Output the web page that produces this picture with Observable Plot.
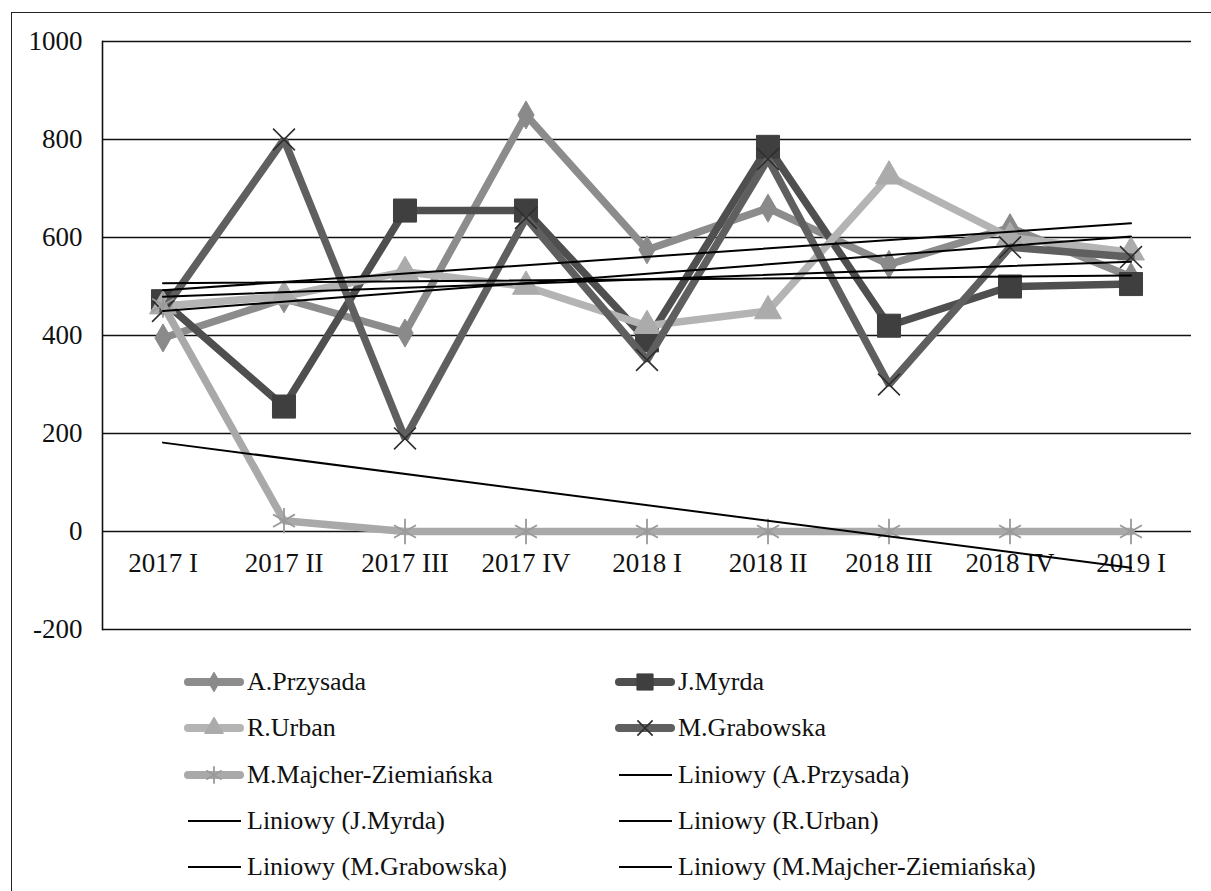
<!DOCTYPE html>
<html><head><meta charset="utf-8">
<script src="https://cdn.jsdelivr.net/npm/d3@7"></script>
<script src="https://cdn.jsdelivr.net/npm/@observablehq/plot@0.6"></script>
<style>
html,body{margin:0;padding:0;background:#fff;}
body{overflow:hidden;width:1211px;height:891px;position:relative;font-family:"Liberation Serif","Times New Roman",serif;color:#111;}
#frame{position:absolute;left:11px;top:12px;width:1300px;height:1000px;border:1.5px solid #222;box-sizing:border-box;}
#chart{position:absolute;left:0;top:0;}
.item{position:absolute;height:40px;display:flex;align-items:center;font-size:26px;white-space:nowrap;}
.item svg{display:block;margin-right:2px;}
</style></head><body>
<div id="frame"></div>
<div id="chart"></div>
<div id="legend"></div>
<script>
// ---- data ----
const categories = ["2017 I","2017 II","2017 III","2017 IV","2018 I","2018 II","2018 III","2018 IV","2019 I"];
const przysada  = [395, 475, 405, 850, 575, 660, 545, 620, 520];
const myrda     = [470, 255, 655, 655, 390, 785, 420, 500, 505];
const urban     = [460, 480, 530, 500, 420, 450, 725, 600, 570];
const grabowska = [450, 800, 190, 640, 350, 760, 300, 580, 560];
const majcher   = [462, 22, 0, 0, 0, 0, 0, 0, 0];
const seriesNames = ["A.Przysada","J.Myrda","R.Urban","M.Grabowska","M.Majcher-Ziemiańska"];
const yTicks = [-200, 0, 200, 400, 600, 800, 1000];
const trendPrefix = "Liniowy";

// ---- styles ----
const seriesValues = [przysada, myrda, urban, grabowska, majcher];
const lineColors = ["#8c8c8c", "#4f4f4f", "#b4b4b4", "#5f5f5f", "#a9a9a9"];
const markers = [
  {symbol:"diamond",  r:8.5, fill:"#8a8a8a", stroke:"#8a8a8a", sw:1},
  {symbol:"square",   r:13,  fill:"#3f3f3f", stroke:"#3f3f3f", sw:1},
  {symbol:"triangle", r:10,  fill:"#ababab", stroke:"#ababab", sw:1},
  {symbol:"times",    r:10,  fill:"none",    stroke:"#2e2e2e", sw:1.6},
  {symbol:"asterisk", r:12,  fill:"none",    stroke:"#9a9a9a", sw:1.8}
];

const data = seriesNames.flatMap((s, si) => seriesValues[si].map((v, i) => ({series: s, i, v})));

const marks = [
  Plot.ruleY(yTicks, {stroke: "#111", strokeWidth: 1.6}),
  Plot.frame({anchor: "left", stroke: "#111", strokeWidth: 1.6}),
  Plot.axisY(yTicks, {tickSize: 0, tickPadding: 20, fontSize: 27, fill: "#111", label: null, tickFormat: d => String(d)}),
  Plot.text(categories, {x: (d, i) => i, y: 0, dy: 32, text: d => d, fontSize: 27, fill: "#111"})
];
seriesNames.forEach((s, si) => {
  const vals = seriesValues[si];
  marks.push(Plot.lineY(vals, {x: (d, i) => i, y: d => d, stroke: lineColors[si], strokeWidth: 7.5, strokeLinejoin: "miter"}));
  const m = markers[si];
  marks.push(Plot.dot(vals, {x: (d, i) => i, y: d => d, symbol: m.symbol, r: m.r, fill: m.fill, stroke: m.stroke, strokeWidth: m.sw}));
});
marks.push(Plot.linearRegressionY(data, {x: "i", y: "v", z: "series", stroke: "#000", strokeWidth: 2, ci: 0}));

const chart = Plot.plot({
  width: 1211,
  height: 655,
  marginLeft: 102,
  marginRight: 20,
  marginTop: 41,
  marginBottom: 26,
  x: {type: "linear", domain: [-0.5, 8.5], axis: null},
  y: {domain: [-200, 1000], axis: null},
  style: {background: "transparent", fontFamily: "Liberation Serif, Times New Roman, serif", fontSize: "27px", color: "#111", overflow: "visible"},
  marks
});
document.getElementById("chart").appendChild(chart);

// ---- legend ----
const legendItems = [];
seriesNames.forEach((s, si) => legendItems.push({label: s, kind: "series", si}));
seriesNames.forEach((s, si) => legendItems.push({label: `${trendPrefix} (${s})`, kind: "trend", si}));
const rowY = [682, 728, 775, 821, 867];
const colX = [183, 614];
const symMap = {diamond: d3.symbolDiamond, square: d3.symbolSquare, triangle: d3.symbolTriangle, times: d3.symbolTimes, asterisk: d3.symbolAsterisk};
const legend = document.getElementById("legend");
legendItems.forEach((it, k) => {
  const row = Math.floor(k / 2), col = k % 2;
  const div = document.createElement("div");
  div.className = "item";
  div.style.left = colX[col] + "px";
  div.style.top = (rowY[row] - 20) + "px";
  const svg = d3.create("svg").attr("width", 62).attr("height", 30);
  if (it.kind === "series") {
    const m = markers[it.si];
    svg.append("line").attr("x1", 5).attr("x2", 57).attr("y1", 15).attr("y2", 15)
      .attr("stroke", lineColors[it.si]).attr("stroke-width", 8).attr("stroke-linecap", "round");
    const size = Math.PI * (m.r * 0.7) ** 2;
    svg.append("path").attr("transform", "translate(31,15)")
      .attr("d", d3.symbol(symMap[m.symbol], size)())
      .attr("fill", m.fill).attr("stroke", m.stroke).attr("stroke-width", m.sw);
  } else {
    svg.append("line").attr("x1", 5).attr("x2", 58).attr("y1", 15).attr("y2", 15)
      .attr("stroke", "#000").attr("stroke-width", 2);
  }
  div.appendChild(svg.node());
  const span = document.createElement("span");
  span.textContent = it.label;
  div.appendChild(span);
  legend.appendChild(div);
});
</script>
</body></html>
